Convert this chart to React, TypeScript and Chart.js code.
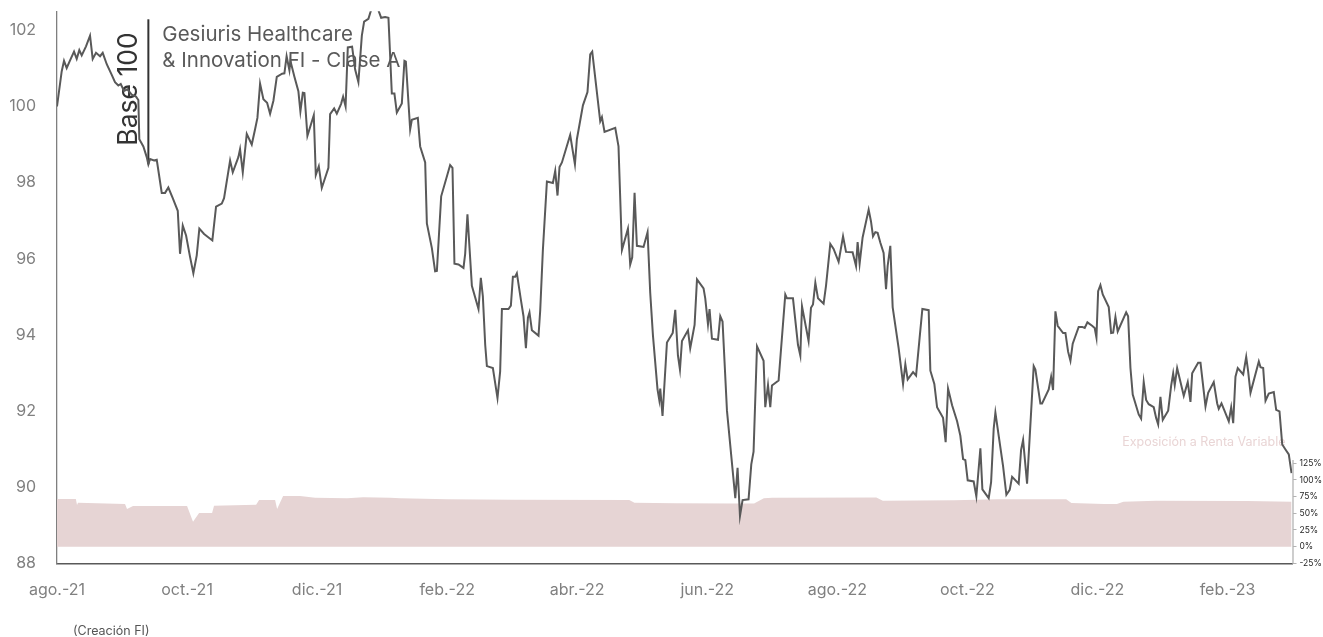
import React, { useEffect, useRef } from 'react';
import { Chart, registerables } from 'chart.js';

Chart.register(...registerables);

// ---------- DATA ----------
const monthLabels = ['ago.-21', 'oct.-21', 'dic.-21', 'feb.-22', 'abr.-22', 'jun.-22', 'ago.-22', 'oct.-22', 'dic.-22', 'feb.-23'];
const monthTickValues = [0, 2, 4, 6, 8, 10, 12, 14, 16, 18];
const navTicks = [88, 90, 92, 94, 96, 98, 100, 102];
const expoTicks = [-25, 0, 25, 50, 75, 100, 125];

const titleLines = ['Gesiuris Healthcare', '& Innovation FI - Clase A'];
const baseLabel = 'Base 100';
const expoLabel = 'Exposición a Renta Variable';
const creationLabel = '(Creación FI)';
const baseMonth = 1.405;
const baseValue = 98.48;

// months since ago.-21 (fund creation)
const navMonths = [
  0, 0.072, 0.108, 0.149, 0.211, 0.262, 0.303, 0.343, 0.38, 0.446, 0.508, 0.549, 0.6, 0.662, 0.703, 0.765, 0.842, 0.892, 0.943, 0.98,
  1.031, 1.082, 1.149, 1.215, 1.251, 1.266, 1.328, 1.38, 1.405, 1.431, 1.492, 1.534, 1.611, 1.662, 1.712, 1.78, 1.857, 1.892, 1.934, 1.985,
  2.046, 2.097, 2.149, 2.189, 2.262, 2.389, 2.446, 2.534, 2.569, 2.662, 2.703, 2.789, 2.815, 2.857, 2.918, 2.995,
  3.046, 3.082, 3.123, 3.174, 3.231, 3.277, 3.328, 3.38, 3.462, 3.497, 3.531, 3.574, 3.589, 3.651, 3.712, 3.743, 3.78, 3.805, 3.851, 3.949, 3.98,
  4.026, 4.072, 4.174, 4.2, 4.262, 4.303, 4.369, 4.4, 4.438, 4.472, 4.538, 4.585, 4.635, 4.688, 4.723, 4.789, 4.846, 4.938, 4.985,
  5.046, 5.097, 5.149, 5.189, 5.226, 5.303, 5.343, 5.365, 5.431, 5.457, 5.549, 5.585, 5.662, 5.688, 5.765, 5.815, 5.842, 5.908,
  6.046, 6.082, 6.112, 6.174, 6.251, 6.277, 6.312, 6.38, 6.482, 6.518, 6.549, 6.585, 6.611, 6.703, 6.774, 6.815, 6.842, 6.943, 6.98,
  7.011, 7.046, 7.072, 7.134, 7.174, 7.211, 7.242, 7.266, 7.303, 7.405, 7.431, 7.472, 7.534, 7.626, 7.662, 7.697, 7.728, 7.765, 7.892, 7.965, 7.995,
  8.088, 8.158, 8.2, 8.231, 8.354, 8.38, 8.42, 8.585, 8.635, 8.688, 8.78, 8.815, 8.846, 8.882, 8.918,
  9.02, 9.082, 9.123, 9.165, 9.235, 9.262, 9.277, 9.312, 9.38, 9.469, 9.508, 9.549, 9.58, 9.611, 9.703, 9.738, 9.805, 9.842, 9.943, 9.969,
  10.011, 10.035, 10.072, 10.165, 10.2, 10.235, 10.303, 10.431, 10.466, 10.503, 10.543, 10.635, 10.677, 10.712, 10.765, 10.866, 10.892, 10.934, 10.969, 10.995,
  11.097, 11.2, 11.226, 11.318, 11.395, 11.431, 11.457, 11.558, 11.595, 11.626, 11.662, 11.703, 11.789, 11.826, 11.892, 11.943,
  12.02, 12.088, 12.134, 12.235, 12.288, 12.312, 12.343, 12.389, 12.482, 12.518, 12.549, 12.585, 12.62, 12.662, 12.712, 12.749, 12.774, 12.815, 12.851, 12.943,
  13.011, 13.046, 13.082, 13.165, 13.211, 13.266, 13.308, 13.405, 13.431, 13.492, 13.534, 13.626, 13.666, 13.703, 13.765, 13.842, 13.892, 13.934, 13.969,
  14.005, 14.097, 14.138, 14.2, 14.231, 14.328, 14.365, 14.405, 14.431, 14.482, 14.549, 14.6, 14.651, 14.688, 14.789, 14.826, 14.857, 14.918,
  15.02, 15.046, 15.123, 15.149, 15.251, 15.288, 15.318, 15.354, 15.389, 15.472, 15.508, 15.549, 15.585, 15.62, 15.712, 15.765, 15.805, 15.846, 15.918, 15.958, 15.985,
  16.011, 16.046, 16.082, 16.174, 16.211, 16.242, 16.277, 16.312, 16.442, 16.472, 16.508, 16.543, 16.635, 16.672, 16.712, 16.749, 16.789, 16.866, 16.903, 16.934, 16.969,
  17.005, 17.088, 17.134, 17.165, 17.189, 17.226, 17.328, 17.389, 17.431, 17.457, 17.549, 17.585, 17.662, 17.703, 17.789, 17.842, 17.866, 17.908, 17.949,
  18.02, 18.057, 18.088, 18.123, 18.158, 18.242, 18.288, 18.318, 18.354, 18.482, 18.508, 18.549, 18.585, 18.635, 18.712, 18.749, 18.8, 18.842, 18.892, 18.943, 18.985,
];

const navValues = [
  100.0, 100.92, 101.2, 101.01, 101.25, 101.44, 101.25, 101.48, 101.34, 101.58, 101.86, 101.25, 101.41, 101.32, 101.41, 101.11, 100.83, 100.64, 100.55, 100.59,
  100.41, 100.45, 100.31, 100.26, 100.17, 99.14, 98.95, 98.67, 98.48, 98.62, 98.58, 98.6, 97.73, 97.73, 97.87, 97.59, 97.26, 96.13, 96.87, 96.61,
  96.05, 95.62, 96.09, 96.79, 96.65, 96.48, 97.37, 97.45, 97.59, 98.58, 98.27, 98.67, 98.88, 98.27, 99.28, 99.0,
  99.4, 99.7, 100.6, 100.19, 100.1, 99.81, 100.15, 100.78, 100.86, 100.87, 101.32, 100.95, 101.2, 100.78, 100.4, 99.87, 100.36, 100.35, 99.23, 99.77, 98.2,
  98.43, 97.86, 98.39, 99.8, 99.95, 99.81, 100.07, 100.26, 100.0, 101.55, 101.57, 100.97, 100.64, 101.86, 102.23, 102.3, 102.62, 102.55, 102.33,
  102.35, 102.33, 100.34, 100.34, 99.84, 100.08, 101.2, 101.18, 99.4, 99.65, 99.7, 98.95, 98.53, 96.93, 96.28, 95.67, 95.68, 97.64,
  98.46, 98.39, 95.87, 95.85, 95.76, 96.13, 97.17, 95.29, 94.68, 95.5, 95.01, 93.74, 93.18, 93.13, 92.34, 93.04, 94.68, 94.68, 94.77,
  95.53, 95.53, 95.62, 94.92, 94.49, 93.65, 94.45, 94.59, 94.12, 93.98, 94.64, 96.23, 98.03, 97.99, 98.31, 97.66, 98.41, 98.53, 99.25, 98.48, 99.14,
  100.03, 100.38, 101.37, 101.44, 99.61, 99.72, 99.33, 99.44, 98.95, 96.23, 96.79, 95.85, 96.04, 97.73, 96.34,
  96.31, 96.7, 95.1, 93.98, 92.57, 92.29, 92.59, 91.87, 93.8, 94.05, 94.66, 93.46, 93.09, 93.84, 94.12, 93.65, 94.26, 95.46, 95.22, 94.96,
  94.28, 94.68, 93.9, 93.87, 94.49, 94.35, 92.01, 89.71, 90.51, 89.24, 89.66, 89.68, 90.6, 90.93, 93.7, 93.32, 92.1, 92.68, 92.1, 92.67,
  92.8, 95.06, 94.96, 94.96, 93.74, 93.46, 94.75, 93.84, 94.71, 94.8, 95.37, 94.96, 94.82, 95.29, 96.39, 96.26,
  95.92, 96.59, 96.18, 96.17, 95.81, 96.44, 95.87, 96.56, 97.29, 96.98, 96.59, 96.7, 96.68, 96.42, 96.15, 95.2, 95.81, 96.34, 94.73, 93.65,
  92.71, 93.23, 92.83, 93.02, 92.93, 93.93, 94.68, 94.65, 93.06, 92.71, 92.1, 91.82, 91.18, 92.59, 92.15, 91.73, 91.35, 90.74, 90.71,
  90.18, 90.15, 89.76, 91.02, 89.94, 89.71, 90.13, 91.54, 91.96, 91.35, 90.55, 89.8, 89.93, 90.27, 90.09, 90.98, 91.24, 90.09,
  93.18, 93.09, 92.2, 92.2, 92.57, 92.9, 92.55, 94.62, 94.24, 94.05, 94.05, 93.56, 93.32, 93.77, 94.21, 94.21, 94.18, 94.33, 94.24, 94.18, 93.93,
  95.15, 95.31, 95.06, 94.73, 94.05, 94.06, 94.47, 94.09, 94.59, 94.49, 93.13, 92.43, 91.91, 91.8, 92.76, 92.29, 92.18, 92.1, 91.82, 91.65, 92.37,
  91.77, 92.01, 92.67, 92.99, 92.68, 93.13, 92.4, 92.76, 92.24, 92.99, 93.27, 93.27, 92.12, 92.48, 92.76, 92.2, 92.06, 92.2, 92.03,
  91.73, 92.1, 91.68, 92.9, 93.13, 92.96, 93.42, 93.04, 92.48, 93.3, 93.15, 93.13, 92.27, 92.46, 92.5, 92.03, 91.99, 91.12, 90.99, 90.86, 90.37,
];

const expoMonths = [
  0, 0.29, 0.308, 0.323, 1.046, 1.077, 1.169, 2.0, 2.092, 2.185, 2.385, 2.415, 3.062, 3.108, 3.354, 3.385, 3.477, 3.738, 3.969,
  4.462, 4.708, 5.123, 5.277, 6.0, 7.0, 8.8, 8.88, 9.5, 10.4, 10.72, 10.87, 11.0, 12.6, 12.7, 13.8, 14.46, 15.52, 15.6,
  16.1, 16.3, 16.4, 16.9, 18.3, 18.985,
];
const expoValues = [
  71.5, 71.5, 62.5, 66, 64, 56.5, 61, 61, 37.5, 50.5, 50.5, 61.5, 63, 70, 70, 56.5, 76, 76, 73.5,
  72.5, 74, 73.5, 72.5, 71, 70.5, 70, 65.7, 65, 64.7, 64.7, 72.5, 73.5, 73.8, 69, 69.5, 71, 71, 65.6,
  64, 63.8, 67.3, 69, 68.5, 67.3,
];

// ---------- LAYOUT CONSTANTS ----------
const W = 1323;
const H = 637;
const FONT = 'Inter, "Noto Sans", sans-serif';
const EXPO_AXIS_MAX = 803;

const annotationPlugin = {
  id: 'annotations',
  beforeDatasetsDraw(chart: any) {
    const { ctx, chartArea, scales } = chart;
    const x = scales.x;
    const y = scales.y;
    const bx = x.getPixelForValue(baseMonth);
    ctx.save();
    // Title
    ctx.fillStyle = '#595959';
    ctx.font = `20.5px ${FONT}`;
    ctx.textAlign = 'left';
    ctx.textBaseline = 'alphabetic';
    ctx.fillText(titleLines[0], bx + 14, 41);
    ctx.fillText(titleLines[1], bx + 14, 67);
    // Base 100 marker
    ctx.strokeStyle = '#333333';
    ctx.lineWidth = 2;
    ctx.beginPath();
    ctx.moveTo(bx, chartArea.top + 8);
    ctx.lineTo(bx, y.getPixelForValue(baseValue));
    ctx.stroke();
    ctx.save();
    ctx.translate(bx - 11, 89);
    ctx.rotate(-Math.PI / 2);
    ctx.fillStyle = '#333333';
    ctx.font = `26.5px ${FONT}`;
    ctx.textAlign = 'center';
    ctx.textBaseline = 'alphabetic';
    ctx.fillText(baseLabel, 0, 0);
    ctx.restore();
    // Exposure label
    ctx.fillStyle = '#e9d5d5';
    ctx.font = `12.5px ${FONT}`;
    ctx.textAlign = 'right';
    ctx.textBaseline = 'middle';
    ctx.fillText(expoLabel, chartArea.right - 7, 442);
    // Creation label
    ctx.fillStyle = '#555555';
    ctx.font = `12.5px ${FONT}`;
    ctx.textAlign = 'left';
    ctx.textBaseline = 'middle';
    ctx.fillText(creationLabel, x.getPixelForValue(0) + 16, 631);
    ctx.restore();
  },
  afterDraw(chart: any) {
    const { ctx, chartArea, scales } = chart;
    const y1 = scales.y1;
    ctx.save();
    ctx.strokeStyle = '#b3b3b3';
    ctx.lineWidth = 1.3;
    ctx.beginPath();
    ctx.moveTo(chartArea.right + 0.5, y1.getPixelForValue(-26));
    ctx.lineTo(chartArea.right + 0.5, y1.getPixelForValue(130));
    ctx.stroke();
    ctx.restore();
  },
};

function zeroPad(scale: any) {
  scale.paddingLeft = 0;
  scale.paddingRight = 0;
  scale.paddingTop = 0;
  scale.paddingBottom = 0;
}

export default function App() {
  const canvasRef = useRef<HTMLCanvasElement | null>(null);

  useEffect(() => {
    if (!canvasRef.current) return;
    const navData = navMonths.map((m, i) => ({ x: m, y: navValues[i] }));
    const expoData = expoMonths.map((m, i) => ({ x: m, y: expoValues[i] }));

    const chart = new Chart(canvasRef.current, {
      type: 'line',
      data: {
        datasets: [
          {
            label: 'Gesiuris Healthcare & Innovation FI - Clase A',
            data: navData,
            xAxisID: 'x',
            yAxisID: 'y',
            borderColor: '#595959',
            borderWidth: 2,
            pointRadius: 0,
            tension: 0,
            fill: false,
          },
          {
            label: expoLabel,
            data: expoData,
            xAxisID: 'x',
            yAxisID: 'y1',
            borderWidth: 0,
            borderColor: 'rgba(0,0,0,0)',
            backgroundColor: 'rgb(230, 212, 212)',
            pointRadius: 0,
            tension: 0,
            fill: 'origin',
          },
        ],
      },
      options: {
        responsive: false,
        animation: false,
        layout: { padding: { top: 11.3, left: 0, right: 0, bottom: 0 } },
        plugins: {
          legend: { display: false },
          tooltip: { enabled: false },
          title: { display: false },
        },
        scales: {
          x: {
            type: 'linear',
            position: 'bottom',
            min: 0,
            max: 19,
            grid: { display: false, drawTicks: false },
            border: { display: true, color: '#595959', width: 1.5 },
            ticks: {
              color: '#808080',
              font: { family: FONT, size: 16 },
              padding: 17,
              maxRotation: 0,
              autoSkip: false,
              callback: (v: any) => {
                const i = monthTickValues.indexOf(Number(v));
                return i >= 0 ? monthLabels[i] : '';
              },
            },
            afterBuildTicks: (scale: any) => {
              scale.ticks = monthTickValues.map((v) => ({ value: v }));
            },
            afterFit: (scale: any) => {
              scale.height = 73.7;
              zeroPad(scale);
            },
          },
          y: {
            type: 'linear',
            position: 'left',
            min: 88,
            max: 102.5,
            grid: { display: false, drawTicks: false },
            border: { display: true, color: '#7f7f7f', width: 1.3 },
            ticks: {
              color: '#808080',
              font: { family: FONT, size: 16 },
              padding: 21,
              callback: (v: any) => String(v),
            },
            afterBuildTicks: (scale: any) => {
              scale.ticks = navTicks.map((v) => ({ value: v }));
            },
            afterFit: (scale: any) => {
              scale.width = 57;
              zeroPad(scale);
            },
          },
          y1: {
            type: 'linear',
            position: 'right',
            min: -25,
            max: EXPO_AXIS_MAX,
            grid: { display: true, drawOnChartArea: false, drawTicks: true, tickLength: 4, color: '#b3b3b3' },
            border: { display: false },
            ticks: {
              color: '#262626',
              font: { family: FONT, size: 8.5 },
              padding: 3,
              callback: (v: any) => `${v}%`,
            },
            afterBuildTicks: (scale: any) => {
              scale.ticks = expoTicks.map((v) => ({ value: v }));
            },
            afterFit: (scale: any) => {
              scale.width = 30.5;
              zeroPad(scale);
            },
          },
        },
      },
      plugins: [annotationPlugin],
    });

    return () => chart.destroy();
  }, []);

  return (
    <div style={{ position: 'absolute', left: 0, top: 0, width: W, height: H, background: '#ffffff' }}>
      <canvas ref={canvasRef} width={W} height={H} style={{ width: W, height: H, display: 'block' }} />
    </div>
  );
}
